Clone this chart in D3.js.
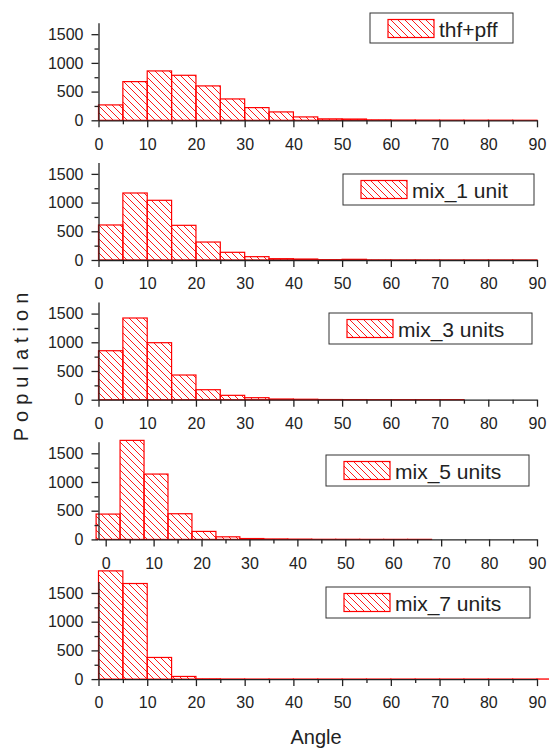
<!DOCTYPE html>
<html>
<head>
<meta charset="utf-8">
<script src="https://cdn.jsdelivr.net/npm/d3@7"></script>
<style>
  body { margin: 0; background: #fff; }
  svg { display: block; font-family: "Liberation Sans", Arial, sans-serif; }
  .axis text { font-size: 16px; fill: #222; }
  .axis path, .axis line { stroke: #222; stroke-width: 1.3px; }
</style>
</head>
<body>
<div id="chart"></div>
<script>
// legend names, one per panel
const seriesNames = ["thf+pff", "mix_1 unit", "mix_3 units", "mix_5 units", "mix_7 units"];

// left edges of the 5-degree bins
const binStartsA = [0, 5, 10, 15, 20, 25, 30, 35, 40, 45, 50, 55, 60, 65, 70, 75, 80, 85];
const binStartsB = [-2, 3, 8, 13, 18, 23, 28, 33, 38, 43, 48, 53, 58, 63, 68, 73, 78, 83];
const binStartsC = [0, 5, 10, 15, 20, 25, 30, 35, 40, 45, 50, 55, 60, 65, 70, 75, 80, 85, 90];

// population per bin
const thfPff = [268, 674, 860, 784, 599, 372, 221, 146, 59, 25, 22, 8, 5, 4, 3, 2, 2, 1];
const mix1 = [610, 1167, 1040, 604, 313, 134, 58, 23, 17, 6, 12, 3, 2, 2, 1, 1, 1, 1];
const mix3 = [853, 1423, 993, 430, 174, 76, 35, 12, 8, 3, 2, 1, 1, 1, 1, 0, 0, 0];
const mix5 = [441, 1725, 1138, 447, 139, 45, 15, 8, 5, 2, 2, 1, 1, 1, 0, 0, 0, 0];
const mix7 = [1885, 1665, 377, 46, 5, 2, 1, 1, 1, 1, 1, 1, 1, 1, 1, 1, 1, 1, 2];

const binSize = 5;
const xMajorTicks = [0, 10, 20, 30, 40, 50, 60, 70, 80, 90];
const xMinorTicks = [5, 15, 25, 35, 45, 55, 65, 75, 85];
const yMajorTicks = [0, 500, 1000, 1500];
const yMinorTicks = [250, 750, 1250];

const panels = [
  { name: seriesNames[0], starts: binStartsA, values: thfPff, xMin: 0 },
  { name: seriesNames[1], starts: binStartsA, values: mix1, xMin: 0 },
  { name: seriesNames[2], starts: binStartsA, values: mix3, xMin: 0 },
  { name: seriesNames[3], starts: binStartsB, values: mix5, xMin: -1.5 },
  { name: seriesNames[4], starts: binStartsC, values: mix7, xMin: 0 }
];

// legend boxes [x, y, w, h]
const legendBoxes = [
  [370, 13, 143, 30],
  [343, 174, 191, 31],
  [329, 313, 203, 31],
  [326, 455, 203, 31],
  [326, 587, 204, 31]
];

const width = 549, height = 749;
const left = 98.5, right = 537;
const firstBase = 120.3, step = 139.7, plotH = 97.6;

const svg = d3.select("#chart").append("svg")
  .attr("width", width)
  .attr("height", height);

const defs = svg.append("defs");
defs.append("pattern")
  .attr("id", "hatch")
  .attr("patternUnits", "userSpaceOnUse")
  .attr("width", 7)
  .attr("height", 7)
  .append("path")
  .attr("d", "M0,0L7,7M-1,6L1,8M6,-1L8,1")
  .attr("stroke", "#f00")
  .attr("stroke-width", 0.9);

panels.forEach(function (p, i) {
  const base = firstBase + i * step;
  const x = d3.scaleLinear().domain([p.xMin, 90]).range([left, right]);
  const y = d3.scaleLinear().domain([0, 1700]).range([base, base - plotH]);

  const g = svg.append("g");

  g.selectAll("rect.bar")
    .data(p.values)
    .enter()
    .append("rect")
    .attr("class", "bar")
    .attr("x", (d, k) => x(p.starts[k]))
    .attr("width", (d, k) => x(p.starts[k] + binSize) - x(p.starts[k]))
    .attr("y", d => y(d))
    .attr("height", d => y(0) - y(d))
    .attr("fill", "url(#hatch)")
    .attr("stroke", "#f00")
    .attr("stroke-width", 1.2);

  // minor ticks
  g.append("g")
    .attr("class", "axis")
    .attr("transform", "translate(0," + base + ")")
    .call(d3.axisBottom(x).tickValues(xMinorTicks).tickSize(4).tickFormat(""))
    .select(".domain").remove();
  g.append("g")
    .attr("class", "axis")
    .attr("transform", "translate(" + left + ",0)")
    .call(d3.axisLeft(y).tickValues(yMinorTicks).tickSize(4).tickFormat(""))
    .select(".domain").remove();

  g.append("g")
    .attr("class", "axis")
    .attr("transform", "translate(0," + base + ")")
    .call(d3.axisBottom(x).tickValues(xMajorTicks).tickFormat(d3.format("d"))
      .tickSize(7).tickSizeOuter(0).tickPadding(11));

  g.append("g")
    .attr("class", "axis")
    .attr("transform", "translate(" + left + ",0)")
    .call(d3.axisLeft(y).tickValues(yMajorTicks).tickFormat(d3.format("d"))
      .tickSize(7).tickSizeOuter(0).tickPadding(8));

  // legend
  const lb = legendBoxes[i];
  const lg = g.append("g").attr("transform", "translate(" + lb[0] + "," + lb[1] + ")");
  lg.append("rect")
    .attr("width", lb[2])
    .attr("height", lb[3])
    .attr("fill", "#fff")
    .attr("stroke", "#333")
    .attr("stroke-width", 1);
  lg.append("rect")
    .attr("x", 18)
    .attr("y", 6.5)
    .attr("width", 46)
    .attr("height", 18)
    .attr("fill", "url(#hatch)")
    .attr("stroke", "#f00")
    .attr("stroke-width", 1.2);
  lg.append("text")
    .attr("x", 69)
    .attr("y", 23.5)
    .attr("font-size", 21)
    .attr("fill", "#222")
    .text(p.name);
});

svg.append("text")
  .attr("transform", "translate(28,364) rotate(-90)")
  .attr("text-anchor", "middle")
  .attr("font-size", 20)
  .attr("letter-spacing", "6px")
  .attr("fill", "#222")
  .text("Population");

svg.append("text")
  .attr("x", 316)
  .attr("y", 744)
  .attr("text-anchor", "middle")
  .attr("font-size", 20)
  .attr("fill", "#222")
  .text("Angle");
</script>
</body>
</html>
